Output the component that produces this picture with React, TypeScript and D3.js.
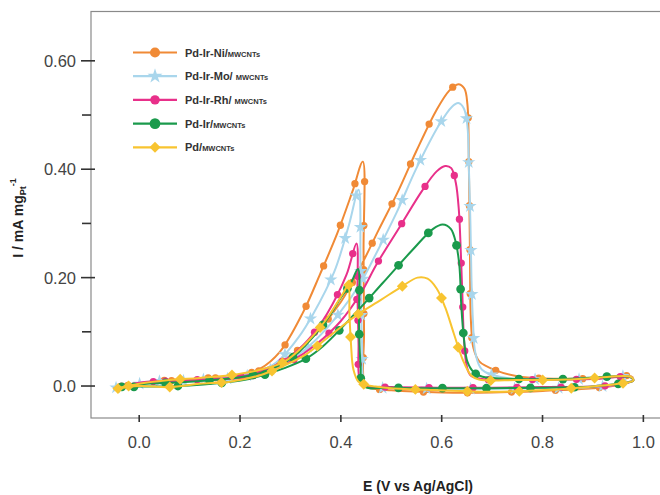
import React, { useEffect, useRef } from "react";
import * as d3 from "d3";

type Pt = [number, number];

// Potential E (V vs Ag/AgCl) and mass activity I (mA mg_Pt^-1)
// Each catalyst: forward (anodic) scan, then reverse scan.
const niForward: Pt[] = [
  [-0.05, -0.003], [0, 0.004], [0.05, 0.009], [0.1, 0.012], [0.15, 0.015], [0.2, 0.02],
  [0.25, 0.032], [0.3, 0.056], [0.35, 0.097], [0.4, 0.155], [0.44, 0.222], [0.475, 0.288],
  [0.514, 0.36], [0.55, 0.434], [0.589, 0.508], [0.615, 0.545], [0.633, 0.557], [0.645, 0.549],
  [0.651, 0.52], [0.654, 0.4], [0.656, 0.25], [0.658, 0.12], [0.663, 0.07], [0.675, 0.045],
  [0.71, 0.028], [0.75, 0.018], [0.8, 0.014], [0.9, 0.014], [0.975, 0.018],
];
const niReverse: Pt[] = [
  [0.98, 0.012], [0.95, 0.002], [0.9, -0.004], [0.8, -0.009], [0.7, -0.012], [0.6, -0.012],
  [0.5, -0.008], [0.46, -0.004], [0.448, 0.0], [0.446, 0.1], [0.445, 0.25], [0.4435, 0.414],
  [0.423, 0.359], [0.393, 0.282], [0.359, 0.207], [0.324, 0.134], [0.279, 0.063], [0.24, 0.032],
  [0.2, 0.02], [0.1, 0.013], [0.03, 0.009], [-0.05, -0.003],
];

const moForward: Pt[] = [
  [-0.05, -0.004], [0, 0.004], [0.05, 0.008], [0.1, 0.01], [0.15, 0.012], [0.2, 0.016],
  [0.25, 0.027], [0.3, 0.048], [0.35, 0.085], [0.4, 0.138], [0.44, 0.192], [0.467, 0.239],
  [0.51, 0.319], [0.55, 0.402], [0.595, 0.482], [0.62, 0.515], [0.633, 0.522], [0.644, 0.512],
  [0.651, 0.48], [0.654, 0.4], [0.657, 0.3], [0.659, 0.2], [0.662, 0.12], [0.667, 0.06],
  [0.68, 0.03], [0.72, 0.016], [0.8, 0.012], [0.9, 0.013], [0.975, 0.017],
];
const moReverse: Pt[] = [
  [0.98, 0.011], [0.95, 0.003], [0.9, -0.002], [0.8, -0.004], [0.7, -0.005], [0.6, -0.005],
  [0.5, -0.004], [0.46, -0.002], [0.447, 0.005], [0.442, 0.08], [0.439, 0.22], [0.435, 0.362],
  [0.416, 0.297], [0.387, 0.211], [0.344, 0.131], [0.317, 0.091], [0.28, 0.05], [0.24, 0.026],
  [0.2, 0.017], [0.1, 0.011], [0.0, 0.006], [-0.05, -0.004],
];

const rhForward: Pt[] = [
  [-0.05, -0.004], [0, 0.005], [0.05, 0.009], [0.1, 0.01], [0.15, 0.012], [0.2, 0.015],
  [0.25, 0.025], [0.3, 0.045], [0.35, 0.076], [0.4, 0.12], [0.44, 0.172], [0.472, 0.2265],
  [0.517, 0.294], [0.561, 0.36], [0.59, 0.396], [0.607, 0.406], [0.619, 0.402], [0.628, 0.375],
  [0.634, 0.325], [0.638, 0.245], [0.641, 0.168], [0.644, 0.091], [0.649, 0.04], [0.657, 0.02],
  [0.68, 0.013], [0.8, 0.012], [0.9, 0.013], [0.975, 0.016],
];
const rhReverse: Pt[] = [
  [0.98, 0.01], [0.95, 0.003], [0.9, -0.001], [0.8, -0.002], [0.7, -0.003], [0.6, -0.003],
  [0.5, -0.002], [0.45, 0.0], [0.438, 0.01], [0.435, 0.08], [0.433, 0.17], [0.431, 0.263],
  [0.411, 0.205], [0.373, 0.134], [0.335, 0.085], [0.3, 0.055], [0.25, 0.03], [0.2, 0.017],
  [0.1, 0.011], [0, 0.006], [-0.05, -0.004],
];

const irForward: Pt[] = [
  [-0.05, -0.004], [0, -0.001], [0.036, -0.001], [0.1, 0.001], [0.155, 0.005], [0.207, 0.011],
  [0.238, 0.018], [0.288, 0.033], [0.33, 0.05], [0.364, 0.073], [0.4255, 0.131], [0.483, 0.19],
  [0.541, 0.25], [0.583, 0.29], [0.602, 0.298], [0.618, 0.29], [0.628, 0.265], [0.635, 0.223],
  [0.639, 0.146], [0.644, 0.088], [0.651, 0.045], [0.664, 0.025], [0.681, 0.017], [0.75, 0.013],
  [0.85, 0.013], [0.975, 0.016],
];
const irReverse: Pt[] = [
  [0.98, 0.01], [0.95, 0.004], [0.9, -0.001], [0.8, -0.003], [0.7, -0.004], [0.6, -0.004],
  [0.5, -0.003], [0.445, 0.0], [0.439, 0.04], [0.436, 0.116], [0.434, 0.216], [0.42, 0.19],
  [0.4, 0.163], [0.372, 0.122], [0.33, 0.075], [0.3, 0.05], [0.25, 0.027], [0.2, 0.016],
  [0.1, 0.008], [0, 0.003], [-0.05, -0.004],
];

const pdForward: Pt[] = [
  [-0.05, -0.006], [0, 0.0], [0.06, -0.002], [0.12, 0.004], [0.18, 0.008], [0.24, 0.02],
  [0.288, 0.038], [0.33, 0.058], [0.384, 0.097], [0.43, 0.13], [0.4795, 0.159], [0.52, 0.183],
  [0.552, 0.2], [0.572, 0.198], [0.59, 0.18], [0.607, 0.145], [0.624, 0.097], [0.642, 0.048],
  [0.658, 0.02], [0.674, 0.012], [0.75, 0.011], [0.85, 0.012], [0.905, 0.015], [0.975, 0.017],
];
const pdReverse: Pt[] = [
  [0.98, 0.01], [0.95, 0.004], [0.93, 0.002], [0.815, -0.007], [0.7, -0.0105], [0.584, -0.0074],
  [0.5, -0.004], [0.469, -0.001], [0.451, 0.002], [0.435, 0.008], [0.425, 0.03], [0.42, 0.079],
  [0.417, 0.134], [0.415, 0.187], [0.405, 0.172], [0.368, 0.119], [0.33, 0.078], [0.288, 0.045],
  [0.24, 0.03], [0.18, 0.02], [0.12, 0.015], [0.06, 0.011], [0, 0.004], [-0.05, -0.006],
];

const X_TICKS = [0, 0.2, 0.4, 0.6, 0.8, 1.0];
const X_TICK_LABELS = ["0.0", "0.2", "0.4", "0.6", "0.8", "1.0"];
const Y_TICKS = [0, 0.2, 0.4, 0.6];
const Y_TICK_LABELS = ["0.0", "0.20", "0.40", "0.60"];
const Y_MINOR = [0.1, 0.3, 0.5];

const CATALYSTS = ["Pd-Ir-Ni/", "Pd-Ir-Mo/ ", "Pd-Ir-Rh/ ", "Pd-Ir/", "Pd/"];
const SUPPORT = "MWCNTs";

// square turned by 45 degrees: a fat diamond marker
const symbolRhomb: d3.SymbolType = {
  draw(context, size) {
    const r = Math.sqrt(size / 2);
    context.moveTo(0, -r);
    context.lineTo(r, 0);
    context.lineTo(0, r);
    context.lineTo(-r, 0);
    context.closePath();
  },
};

type Style = {
  color: string;
  symbol: d3.SymbolType;
  size: number;
  legendSize: number;
  spacing: number;
  offset: number;
};

const STYLES: Style[] = [
  { color: "#F08A36", symbol: d3.symbolCircle, size: 42, legendSize: 80, spacing: 44, offset: 14 },
  { color: "#A9D6EC", symbol: d3.symbolStar, size: 55, legendSize: 70, spacing: 44, offset: 26 },
  { color: "#E8308A", symbol: d3.symbolCircle, size: 42, legendSize: 70, spacing: 44, offset: 8 },
  { color: "#1A9A4C", symbol: d3.symbolCircle, size: 60, legendSize: 90, spacing: 44, offset: 20 },
  { color: "#F8C430", symbol: symbolRhomb, size: 60, legendSize: 60, spacing: 52, offset: 4 },
];

const SCANS: [Pt[], Pt[]][] = [
  [niForward, niReverse],
  [moForward, moReverse],
  [rhForward, rhReverse],
  [irForward, irReverse],
  [pdForward, pdReverse],
];

const W = 660;
const H = 495;
const FRAME = { left: 91, top: 11.5, right: 661, bottom: 418 };
const FONT = "'Liberation Sans', Arial, Helvetica, sans-serif";

export default function App() {
  const ref = useRef<SVGSVGElement | null>(null);

  useEffect(() => {
    const svg = d3.select(ref.current);
    svg.selectAll("*").remove();

    const x = d3.scaleLinear().domain([-0.0956, 1.035]).range([FRAME.left, FRAME.right]);
    const y = d3.scaleLinear().domain([-0.059, 0.691]).range([FRAME.bottom, FRAME.top]);

    svg.append("rect").attr("width", W).attr("height", H).attr("fill", "#fff");

    // plot frame
    svg
      .append("rect")
      .attr("x", FRAME.left)
      .attr("y", FRAME.top)
      .attr("width", FRAME.right - FRAME.left)
      .attr("height", FRAME.bottom - FRAME.top)
      .attr("fill", "none")
      .attr("stroke", "#8a8a8a")
      .attr("stroke-width", 1.2);

    // x ticks
    const gx = svg.append("g");
    X_TICKS.forEach((v, i) => {
      gx.append("line")
        .attr("x1", x(v)).attr("x2", x(v))
        .attr("y1", FRAME.bottom - 3).attr("y2", FRAME.bottom + 4)
        .attr("stroke", "#333").attr("stroke-width", 1.6);
      gx.append("text")
        .attr("x", x(v)).attr("y", 448)
        .attr("text-anchor", "middle")
        .attr("font-family", FONT).attr("font-size", 16.5).attr("fill", "#444")
        .text(X_TICK_LABELS[i]);
    });

    // y ticks
    const gy = svg.append("g");
    Y_TICKS.forEach((v, i) => {
      gy.append("line")
        .attr("x1", FRAME.left - 10).attr("x2", FRAME.left + 4)
        .attr("y1", y(v)).attr("y2", y(v))
        .attr("stroke", "#333").attr("stroke-width", 1.6);
      gy.append("text")
        .attr("x", 76).attr("y", y(v))
        .attr("dy", "0.36em")
        .attr("text-anchor", "end")
        .attr("font-family", FONT).attr("font-size", 16.5).attr("fill", "#444")
        .text(Y_TICK_LABELS[i]);
    });
    Y_MINOR.forEach((v) => {
      gy.append("line")
        .attr("x1", FRAME.left - 9).attr("x2", FRAME.left)
        .attr("y1", y(v)).attr("y2", y(v))
        .attr("stroke", "#333").attr("stroke-width", 1.6);
    });

    // axis titles
    svg.append("text")
      .attr("x", 418).attr("y", 491)
      .attr("text-anchor", "middle")
      .attr("font-family", FONT).attr("font-size", 14).attr("font-weight", "bold").attr("fill", "#222")
      .text("E (V vs Ag/AgCl)");

    const yt = svg.append("text")
      .attr("transform", "translate(23,218) rotate(-90)")
      .attr("text-anchor", "middle")
      .attr("font-family", FONT).attr("font-size", 14).attr("font-weight", "bold").attr("fill", "#222");
    yt.append("tspan").text("I / mA mg");
    yt.append("tspan").attr("font-size", 9).attr("dy", 3).text("Pt");
    yt.append("tspan").attr("font-size", 9).attr("dy", -10).text("-1");

    // curves
    const line = d3
      .line<Pt>()
      .x((d) => x(d[0]))
      .y((d) => y(d[1]))
      .curve(d3.curveCatmullRom.alpha(0.5));

    const gc = svg.append("g");
    SCANS.forEach(([fwd, rev], k) => {
      const st = STYLES[k];
      const path = gc
        .append("path")
        .attr("d", line([...fwd, ...rev]))
        .attr("fill", "none")
        .attr("stroke", st.color)
        .attr("stroke-width", 2)
        .attr("stroke-linejoin", "round");
      const node = path.node() as SVGPathElement;
      const total = node.getTotalLength();
      const sym = d3.symbol().type(st.symbol).size(st.size)();
      for (let t = st.offset; t < total; t += st.spacing) {
        const p = node.getPointAtLength(t);
        gc.append("path")
          .attr("d", sym)
          .attr("transform", `translate(${p.x},${p.y})`)
          .attr("fill", st.color);
      }
    });

    // legend
    const gl = svg.append("g");
    CATALYSTS.forEach((name, k) => {
      const st = STYLES[k];
      const ly = 52.5 + k * 23.7;
      gl.append("line")
        .attr("x1", 133).attr("x2", 177)
        .attr("y1", ly).attr("y2", ly)
        .attr("stroke", st.color).attr("stroke-width", 2.2);
      gl.append("path")
        .attr("d", d3.symbol().type(st.symbol).size(st.legendSize)())
        .attr("transform", `translate(155,${ly})`)
        .attr("fill", st.color);
      const t = gl.append("text")
        .attr("x", 185).attr("y", ly + 4)
        .attr("font-family", FONT).attr("font-weight", "bold").attr("fill", "#333")
        .attr("xml:space", "preserve");
      t.append("tspan").attr("font-size", 11).text(name);
      t.append("tspan").attr("font-size", 7.5).text(SUPPORT);
    });
  }, []);

  return (
    <svg
      ref={ref}
      width={W}
      height={H}
      style={{ position: "absolute", left: 0, top: 0, display: "block" }}
    />
  );
}
